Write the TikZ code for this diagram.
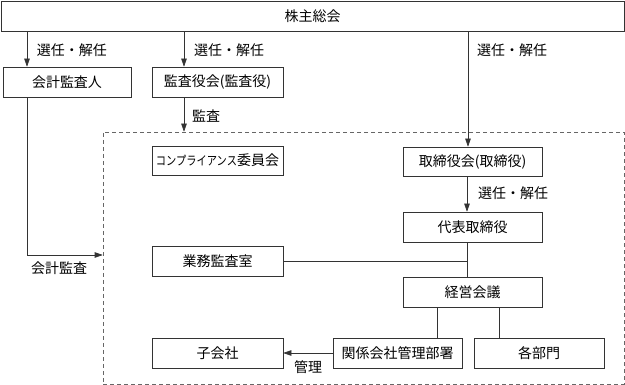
\documentclass[tikz,border=0pt]{standalone}
\usepackage{fontspec}
\usepackage{graphicx}
\setmainfont{Noto Sans CJK JP}
\newfontfamily\jpfont{Noto Sans CJK JP}
\usetikzlibrary{arrows.meta}
\tikzset{
  box/.style={draw=black!80, line width=0.6pt, rectangle, inner sep=0pt, font=\jpfont\fontsize{14}{16}\selectfont},
  conn/.style={draw=black!80, line width=0.6pt},
  arr/.style={conn, -{Triangle[length=8pt,width=5.5pt]}},
  lbl/.style={font=\jpfont\fontsize{14}{16}\selectfont, inner sep=0pt},
  grpbox/.style={draw=black!60, line width=0.6pt, dash pattern=on 4pt off 3pt, rectangle, inner sep=0pt}
}
\begin{document}
\begin{tikzpicture}[x=1pt,y=-1pt]
\useasboundingbox (0,0) rectangle (625,385);
% group frame
\node[grpbox, minimum width=521pt, minimum height=252pt] (grp) at (363.5,258) {};
% nodes
\node[box, minimum width=623pt, minimum height=30pt] (sh) at (312.5,16) {株主総会};
\node[box, minimum width=128pt, minimum height=30pt] (kaikei) at (67,82) {会計監査人};
\node[box, minimum width=131pt, minimum height=30pt] (kansa) at (217.5,82) {監査役会(監査役)};
\node[box, minimum width=131pt, minimum height=29pt] (comp) at (217.5,160.5) {\scalebox{0.82}[1]{\fontsize{12.5}{14}\selectfont コンプライアンス}委員会};
\node[box, minimum width=139pt, minimum height=29pt] (tori) at (472.5,161.5) {取締役会(取締役)};
\node[box, minimum width=139pt, minimum height=30pt] (daihyo) at (472.5,227) {代表取締役};
\node[box, minimum width=131pt, minimum height=30pt] (gyomu) at (217.5,261) {業務監査室};
\node[box, minimum width=139pt, minimum height=30pt] (keiei) at (472.5,292) {経営会議};
\node[box, minimum width=129pt, minimum height=30pt] (kankei) at (397.5,353) {関係会社管理部署};
\node[box, minimum width=130pt, minimum height=30pt] (kakubu) at (539,353) {各部門};
\node[box, minimum width=131pt, minimum height=30pt] (ko) at (217.5,353) {子会社};
% helper coordinates
\coordinate (xa) at (27,0);
\coordinate (xb) at (184,0);
\coordinate (xc) at (468,0);
\coordinate (xd) at (467,0);
\coordinate (xe) at (437,0);
\coordinate (xf) at (499,0);
\coordinate (ya) at (0,255);
% connectors
\draw[arr] (sh.south -| xa) -- (kaikei.north -| xa);
\draw[arr] (sh.south -| xb) -- (kansa.north -| xb);
\draw[arr] (sh.south -| xc) -- (tori.north -| xc);
\draw[arr] (kansa.south -| xb) -- (grp.north -| xb);
\draw[arr] (tori.south -| xd) -- (daihyo.north -| xd);
\draw[conn] (daihyo.south -| xd) -- (keiei.north -| xd);
\draw[conn] (gyomu.east) -- (gyomu.east -| xd);
\draw[conn] (keiei.south -| xe) -- (kankei.north -| xe);
\draw[conn] (keiei.south -| xf) -- (kakubu.north -| xf);
\draw[arr] (kankei.west) -- (ko.east);
\draw[arr] (kaikei.south -| xa) -- (xa |- ya) -- (grp.west |- ya);
% labels
\node[lbl] (l1) at (72,50) {選任・解任};
\node[lbl] (l2) at (229,50) {選任・解任};
\node[lbl] (l3) at (512,50) {選任・解任};
\node[lbl] (l4) at (513,193) {選任・解任};
\node[lbl] (l5) at (206,116) {監査};
\node[lbl] (l6) at (59,268) {会計監査};
\node[lbl] (l7) at (308,367) {管理};
\end{tikzpicture}
\end{document}
